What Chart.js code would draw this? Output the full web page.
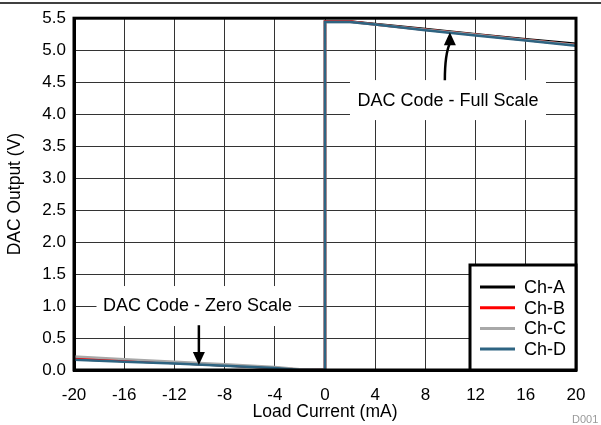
<!DOCTYPE html>
<html lang="en">
<head>
<meta charset="UTF-8">
<title>DAC Output vs Load Current</title>
<script src="https://cdn.jsdelivr.net/npm/chart.js@4.4.1/dist/chart.umd.min.js"></script>
<style>
  body { margin: 0; background: #fff; }
</style>
</head>
<body>
<canvas id="myChart" width="601" height="425"></canvas>
<script>
// load current (mA); two points at 0 make the step from zero to full scale
const loadCurrent = [-20, -16, -12, -8, -4, -2, 0, 0, 2, 4, 8, 12, 16, 20];
const chA = [0.17, 0.14, 0.11, 0.07, 0.035, 0.005, 0, 5.45, 5.45, 5.41, 5.33, 5.25, 5.17, 5.10];
const chB = [0.18, 0.15, 0.115, 0.075, 0.035, 0.005, 0, 5.45, 5.45, 5.40, 5.32, 5.24, 5.16, 5.08];
const chC = [0.21, 0.17, 0.13, 0.09, 0.045, 0.01, 0, 5.44, 5.44, 5.40, 5.32, 5.24, 5.16, 5.08];
const chD = [0.16, 0.13, 0.10, 0.065, 0.03, 0.0, 0, 5.44, 5.44, 5.40, 5.31, 5.23, 5.15, 5.07];
const xTicks = [-20, -16, -12, -8, -4, 0, 4, 8, 12, 16, 20];

const font = 'Arial, "Liberation Sans", sans-serif';
Chart.defaults.font.family = font;
Chart.defaults.font.size = 17;
Chart.defaults.color = '#000';

function pts(ys) {
  return loadCurrent.map((x, i) => ({ x: x, y: ys[i] }));
}

// labels, arrows, legend box and frame
const extras = {
  id: 'extras',
  beforeDatasetsDraw(chart) {
    const ctx = chart.ctx, x = chart.scales.x, y = chart.scales.y;
    ctx.save();
    ctx.font = '18px ' + font;
    ctx.textAlign = 'center';
    ctx.textBaseline = 'middle';
    // full scale label box
    let cx = x.getPixelForValue(9.8), cy = y.getPixelForValue(4.22);
    ctx.fillStyle = '#fff';
    ctx.fillRect(cx - 98, cy - 20, 196, 40);
    ctx.fillStyle = '#000';
    ctx.fillText('DAC Code - Full Scale', cx, cy + 1);
    // zero scale label box
    cx = x.getPixelForValue(-10.16); cy = y.getPixelForValue(1.0);
    ctx.fillStyle = '#fff';
    ctx.fillRect(cx - 101, cy - 20, 202, 40);
    ctx.fillStyle = '#000';
    ctx.fillText('DAC Code - Zero Scale', cx, cy);
    ctx.restore();
  },
  afterDatasetsDraw(chart) {
    const ctx = chart.ctx, x = chart.scales.x, y = chart.scales.y;
    const a = chart.chartArea;
    ctx.save();
    ctx.strokeStyle = '#000';
    ctx.fillStyle = '#000';
    ctx.lineWidth = 2.5;
    // full scale arrow (slightly curved, pointing up)
    let x0 = x.getPixelForValue(9.55), y0 = y.getPixelForValue(4.53);
    let x1 = x.getPixelForValue(9.95), y1 = y.getPixelForValue(5.28);
    ctx.beginPath();
    ctx.moveTo(x0, y0);
    ctx.quadraticCurveTo(x0, y1 + 22, x1, y1 + 11);
    ctx.stroke();
    ctx.beginPath();
    ctx.moveTo(x1, y1);
    ctx.lineTo(x1 - 6, y1 + 13);
    ctx.lineTo(x1 + 6, y1 + 13);
    ctx.closePath();
    ctx.fill();
    // zero scale arrow (pointing down)
    x0 = x.getPixelForValue(-10.05); y0 = y.getPixelForValue(0.70);
    y1 = y.getPixelForValue(0.08);
    ctx.beginPath();
    ctx.moveTo(x0, y0);
    ctx.lineTo(x0, y1 - 11);
    ctx.stroke();
    ctx.beginPath();
    ctx.moveTo(x0, y1);
    ctx.lineTo(x0 - 6, y1 - 13);
    ctx.lineTo(x0 + 6, y1 - 13);
    ctx.closePath();
    ctx.fill();

    // plot frame
    ctx.lineWidth = 3;
    ctx.strokeRect(a.left, a.top, a.right - a.left, a.bottom - a.top);

    // legend
    const lw = 106, lh = 105;
    const lx = a.right - lw, ly = a.bottom - lh;
    ctx.fillStyle = '#fff';
    ctx.fillRect(lx, ly, lw, lh);
    ctx.strokeRect(lx, ly, lw, lh);
    ctx.font = '18px ' + font;
    ctx.textAlign = 'left';
    ctx.textBaseline = 'middle';
    chart.data.datasets.forEach((ds, i) => {
      const ry = ly + 22 + i * 20.7;
      ctx.strokeStyle = ds.borderColor;
      ctx.lineWidth = 3;
      ctx.beginPath();
      ctx.moveTo(lx + 10, ry);
      ctx.lineTo(lx + 45, ry);
      ctx.stroke();
      ctx.fillStyle = '#000';
      ctx.fillText(ds.label, lx + 54, ry + 1);
    });
    ctx.restore();
  },
  afterDraw(chart) {
    const ctx = chart.ctx;
    ctx.save();
    ctx.strokeStyle = '#000';
    ctx.lineWidth = 1.5;
    ctx.beginPath();
    ctx.moveTo(0, 3);
    ctx.lineTo(chart.width, 3);
    ctx.stroke();
    ctx.fillStyle = '#9a9a9a';
    ctx.font = '11px ' + font;
    ctx.textAlign = 'left';
    ctx.textBaseline = 'middle';
    ctx.fillText('D001', 572, 420);
    ctx.restore();
  }
};

new Chart(document.getElementById('myChart'), {
  type: 'line',
  data: {
    datasets: [
      { label: 'Ch-A', data: pts(chA), borderColor: '#000000', order: 3 },
      { label: 'Ch-B', data: pts(chB), borderColor: '#ff0000', order: 2 },
      { label: 'Ch-C', data: pts(chC), borderColor: '#a8a8a8', order: 1 },
      { label: 'Ch-D', data: pts(chD), borderColor: '#2e6482', order: 0 }
    ]
  },
  options: {
    responsive: false,
    animation: false,
    devicePixelRatio: 1,
    layout: { padding: { top: 16, right: 25, left: 0, bottom: 0 } },
    elements: {
      point: { radius: 0 },
      line: { borderWidth: 2.5, tension: 0 }
    },
    plugins: {
      legend: { display: false },
      tooltip: { enabled: false }
    },
    scales: {
      x: {
        type: 'linear',
        min: -20,
        max: 20,
        afterBuildTicks: s => { s.ticks = xTicks.map(v => ({ value: v })); },
        afterFit: s => { s.height = 55; },
        ticks: { padding: 15 },
        grid: { color: '#333', lineWidth: 1, drawTicks: false },
        border: { color: '#000', width: 3 },
        title: { display: true, text: 'Load Current (mA)', font: { size: 17.5 }, padding: { top: 0, bottom: 2 } }
      },
      y: {
        min: 0,
        max: 5.5,
        afterFit: s => { s.width = 74; },
        ticks: { stepSize: 0.5, padding: 8, callback: v => v.toFixed(1) },
        grid: { color: '#333', lineWidth: 1, drawTicks: false },
        border: { color: '#000', width: 3 },
        title: { display: true, text: 'DAC Output (V)', font: { size: 17.5 }, padding: { top: 5, bottom: 0 } }
      }
    }
  },
  plugins: [extras]
});
</script>
</body>
</html>
